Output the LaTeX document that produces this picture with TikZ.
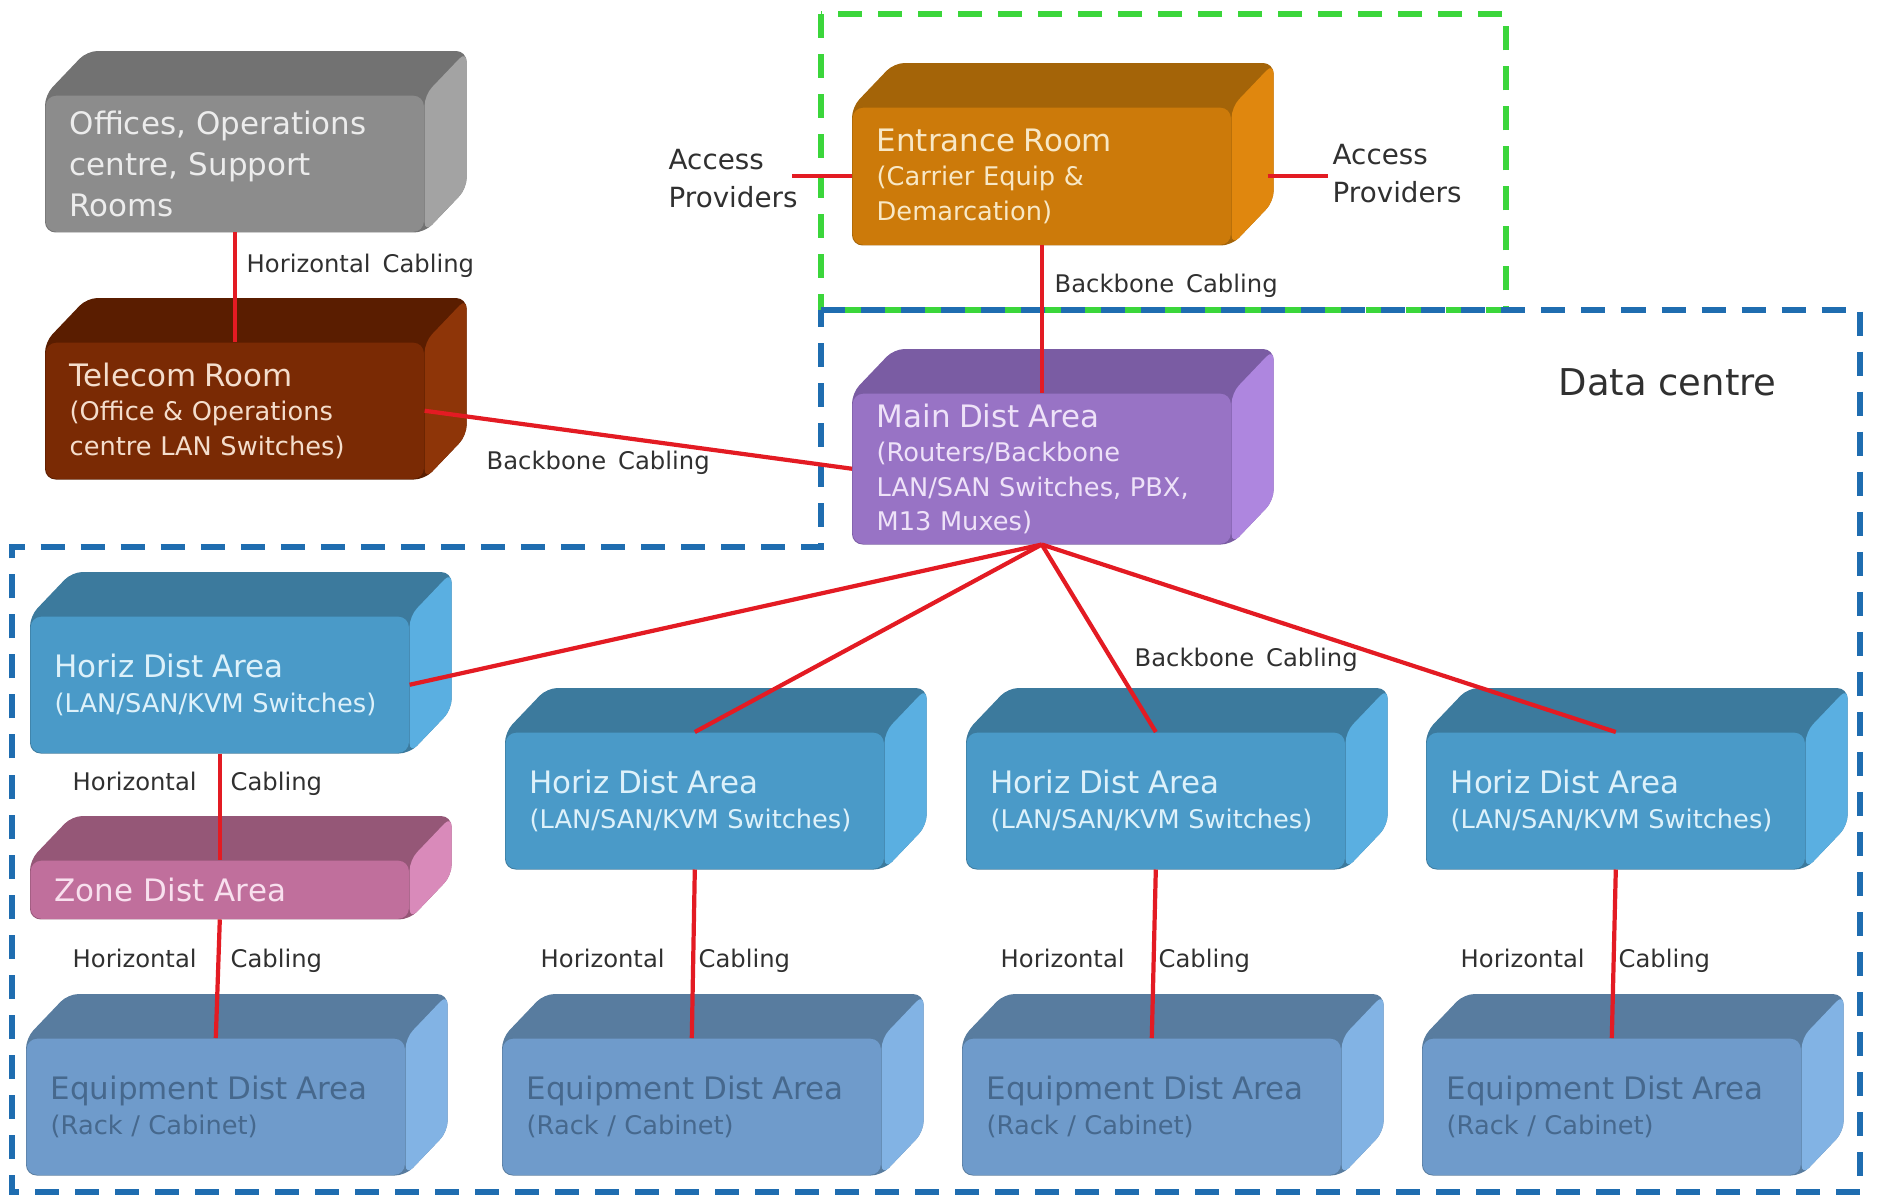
\documentclass[tikz,border=0pt]{standalone}
\usepackage{fontspec}
\setmainfont{DejaVu Sans}
\usepackage{xcolor}
\usetikzlibrary{calc,backgrounds}

\definecolor{cableRed}{HTML}{E31B23}
\definecolor{zoneBlue}{HTML}{1F6DB0}
\definecolor{zoneGreen}{HTML}{3BD63B}
\definecolor{labelGray}{HTML}{303030}
\definecolor{officeFront}{HTML}{8C8C8C}
\definecolor{officeTop}{HTML}{727272}
\definecolor{officeSide}{HTML}{A3A3A3}
\definecolor{officeText}{HTML}{ECECEC}
\definecolor{telecomFront}{HTML}{7A2A04}
\definecolor{telecomTop}{HTML}{5A1D00}
\definecolor{telecomSide}{HTML}{8E3508}
\definecolor{telecomText}{HTML}{F4DDCC}
\definecolor{entranceFront}{HTML}{CC7A0A}
\definecolor{entranceTop}{HTML}{A46408}
\definecolor{entranceSide}{HTML}{E0870E}
\definecolor{entranceText}{HTML}{F8E8C6}
\definecolor{mainFront}{HTML}{9873C5}
\definecolor{mainTop}{HTML}{7A5CA3}
\definecolor{mainSide}{HTML}{AE86DF}
\definecolor{mainText}{HTML}{EEE2F8}
\definecolor{hdaFront}{HTML}{4A9AC8}
\definecolor{hdaTop}{HTML}{3C7A9D}
\definecolor{hdaSide}{HTML}{5AAFE1}
\definecolor{hdaText}{HTML}{DDF1FA}
\definecolor{zdaFront}{HTML}{C06F9C}
\definecolor{zdaTop}{HTML}{955777}
\definecolor{zdaSide}{HTML}{D98ABA}
\definecolor{zdaText}{HTML}{F8E0EE}
\definecolor{edaFront}{HTML}{6F9BCB}
\definecolor{edaTop}{HTML}{587C9F}
\definecolor{edaSide}{HTML}{82B3E4}
\definecolor{edaText}{HTML}{46688D}

\newcommand{\btitle}[1]{{\fontsize{8.8}{11.7}\selectfont #1}}

% top and right faces, drawn behind the front face of a block
\newcommand{\blockfaces}[2]{%
  \begin{scope}[on background layer]
    \fill[#2Top, rounded corners=3pt] (#1.south west) -- (#1.north west)
      -- ($(#1.north west)+(42,-44)$) -- ($(#1.north east)+(42,-44)$)
      -- ($(#1.south east)+(42,-44)$) -- (#1.south east) -- cycle;
    \fill[#2Side, rounded corners=3pt] (#1.north east)
      -- ($(#1.north east)+(42,-44)$) -- ($(#1.south east)+(42,-44)$)
      -- (#1.south east) -- cycle;
  \end{scope}%
}

\begin{document}
\begin{tikzpicture}[
    x=0.01cm, y=-0.01cm,
    block/.style={
        rectangle,
        rounded corners=3pt,
        anchor=north west,
        inner sep=0pt,
        minimum width=3.78cm,
        minimum height=1.36cm,
        text width=3.3cm,
        align=left,
        font=\fontsize{7.3}{9.8}\selectfont
    },
    office/.style={block, fill=officeFront, text=officeText, font=\fontsize{8.8}{11.7}\selectfont},
    telecom/.style={block, fill=telecomFront, text=telecomText},
    entrance/.style={block, fill=entranceFront, text=entranceText, minimum height=1.37cm},
    mda/.style={block, fill=mainFront, text=mainText, minimum height=1.5cm},
    hda/.style={block, fill=hdaFront, text=hdaText},
    zda/.style={block, fill=zdaFront, text=zdaText, minimum height=0.58cm, font=\fontsize{8.8}{11.7}\selectfont},
    eda/.style={block, fill=edaFront, text=edaText},
    cable/.style={cableRed, line width=1.2pt},
    cablelabel/.style={font=\fontsize{6.9}{8.5}\selectfont, text=labelGray, inner sep=0pt, anchor=west},
    zoneline/.style={line width=1.5pt, dash pattern=on 0.24cm off 0.16cm}
]
\useasboundingbox (0,0) rectangle (1881,1196);

% Entrance and data centre outlines
\draw[zoneline, zoneGreen] (821,14) rectangle (1506,310);
\draw[zoneline, zoneBlue] (821,310) -- (1860,310) -- (1860,1192) -- (12,1192)
    -- (12,547) -- (821,547) -- cycle;

% Offices
\node[office] (offices) at (45,95) {Offices, Operations\\centre, Support\\Rooms};
\blockfaces{offices}{office}

% Telecom room
\node[telecom] (telecom) at (45,342) {\btitle{Telecom Room}\\(Office \& Operations\\centre LAN Switches)};
\blockfaces{telecom}{telecom}

% Entrance room
\node[entrance] (entrance) at (852,107) {\btitle{Entrance Room}\\(Carrier Equip \&\\Demarcation)};
\blockfaces{entrance}{entrance}

% Main distribution area
\node[mda] (main) at (852,393) {\btitle{Main Dist Area}\\(Routers/Backbone\\LAN/SAN Switches, PBX,\\M13 Muxes)};
\blockfaces{main}{main}

% Horizontal distribution areas
\node[hda] (hda1) at (30,616) {\btitle{Horiz Dist Area}\\(LAN/SAN/KVM Switches)};
\blockfaces{hda1}{hda}
\foreach \i/\x in {2/505, 3/966, 4/1426} {
    \node[hda] (hda\i) at (\x,732) {\btitle{Horiz Dist Area}\\(LAN/SAN/KVM Switches)};
    \blockfaces{hda\i}{hda}
}

% Zone distribution area
\node[zda] (zda) at (30,860) {Zone Dist Area};
\blockfaces{zda}{zda}

% Equipment distribution areas
\foreach \i/\x in {1/26, 2/502, 3/962, 4/1422} {
    \node[eda] (eda\i) at (\x,1038) {\btitle{Equipment Dist Area}\\(Rack / Cabinet)};
    \blockfaces{eda\i}{eda}
}

% Access providers and area title
\node[font=\fontsize{7.9}{10.8}\selectfont, text=labelGray, align=left, inner sep=0pt, anchor=west]
    (accL) at (668,179) {Access\\Providers};
\node[font=\fontsize{7.9}{10.8}\selectfont, text=labelGray, align=left, inner sep=0pt, anchor=west]
    (accR) at (1332,174) {Access\\Providers};
\node[font=\fontsize{10.5}{12}\selectfont, text=labelGray, inner sep=0pt, anchor=west]
    (dc) at (1558,382) {Data centre};

% Cables
\draw[cable] (offices.south) -- (telecom.north);
\draw[cable] (telecom.east) -- (main.west);
\draw[cable] (entrance.south) -- (main.north);
\draw[cable, shorten >=-0.06cm] (entrance.west) -- (entrance.west -| accL.east);
\draw[cable, shorten <=0.36cm, shorten >=0.04cm] (entrance.east) -- (entrance.east -| accR.west);
\draw[cable] (main.south) -- (hda1.east);
\foreach \i in {2,3,4} {
    \draw[cable] (main.south) -- (hda\i.north);
    \draw[cable] (hda\i.south) -- (eda\i.north);
}
\draw[cable] (hda1.south) -- (zda.north);
\draw[cable] (zda.south) -- (eda1.north);

% Cable labels
\node[cablelabel] (hc0) at (246,266) {Horizontal\hspace{0.12cm}Cabling};
\node[cablelabel] (bb1) at (1054,286) {Backbone\hspace{0.12cm}Cabling};
\node[cablelabel] (bb2) at (486,463) {Backbone\hspace{0.12cm}Cabling};
\node[cablelabel] (bb3) at (1134,660) {Backbone\hspace{0.12cm}Cabling};
\node[cablelabel] (hc1) at (72,784) {Horizontal\hspace{0.34cm}Cabling};
\node[cablelabel] (hc2) at (72,961) {Horizontal\hspace{0.34cm}Cabling};
\node[cablelabel] (hc3) at (540,961) {Horizontal\hspace{0.34cm}Cabling};
\node[cablelabel] (hc4) at (1000,961) {Horizontal\hspace{0.34cm}Cabling};
\node[cablelabel] (hc5) at (1460,961) {Horizontal\hspace{0.34cm}Cabling};

\end{tikzpicture}
\end{document}
